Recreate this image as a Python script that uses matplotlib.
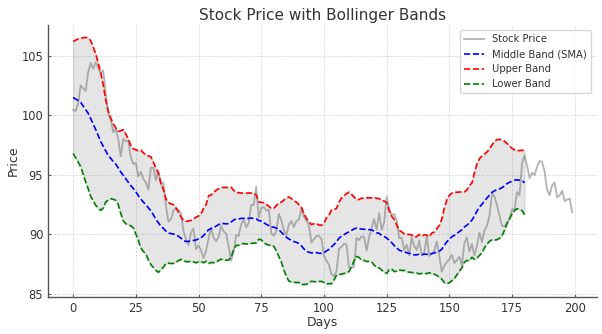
import numpy as np
import pandas as pd
import matplotlib
matplotlib.use("Agg")
import matplotlib.pyplot as plt

price = [
    100.50, 100.36, 101.01, 102.53, 102.29, 102.06, 103.64, 104.41, 103.94, 104.48,
    104.02, 103.55, 103.79, 101.88, 100.16, 99.59, 98.58, 98.89, 97.99, 96.57,
    98.04, 97.81, 97.88, 96.46, 95.91, 96.02, 94.87, 95.25, 94.65, 94.36,
    93.75, 95.61, 95.59, 94.53, 95.36, 94.14, 94.35, 92.39, 91.06, 91.25,
    91.99, 92.16, 92.05, 91.75, 90.27, 89.55, 89.09, 90.15, 90.49, 88.73,
    89.05, 88.67, 87.99, 88.60, 89.63, 90.56, 89.72, 89.41, 89.75, 90.72,
    90.24, 90.06, 88.95, 87.75, 88.57, 89.92, 89.85, 90.85, 91.22, 90.57,
    90.93, 92.47, 92.43, 94.00, 91.38, 92.20, 92.29, 91.99, 92.08, 90.09,
    89.87, 90.23, 91.71, 91.19, 90.38, 89.88, 90.80, 91.12, 90.59, 91.11,
    91.20, 92.17, 91.47, 91.14, 90.75, 89.29, 89.58, 89.84, 89.85, 89.62,
    88.20, 87.78, 87.44, 86.63, 86.47, 86.88, 88.76, 88.94, 89.20, 89.12,
    87.20, 87.18, 87.24, 89.70, 89.51, 89.81, 89.77, 88.60, 89.75, 90.50,
    91.29, 90.38, 91.78, 90.38, 90.97, 93.16, 92.17, 91.60, 91.70, 91.20,
    89.65, 89.72, 88.65, 89.13, 88.21, 89.76, 88.98, 88.65, 89.47, 88.24,
    88.46, 89.77, 88.16, 88.35, 88.61, 89.39, 88.15, 86.83, 87.35, 87.65,
    87.90, 88.25, 87.57, 87.80, 88.09, 87.38, 89.24, 89.72, 88.53, 89.18,
    88.21, 89.00, 90.15, 89.33, 90.30, 90.71, 91.53, 93.43, 93.18, 92.43,
    91.54, 90.72, 90.65, 90.99, 91.27, 92.09, 92.11, 93.56, 93.29, 96.01,
    96.64, 95.78, 94.71, 95.19, 94.97, 95.69, 96.16, 96.09, 95.24, 93.72,
    93.28, 94.13, 94.35, 93.10, 93.28, 93.66, 92.78, 92.93, 92.99, 91.85,
]
window = 20
x_ticks = [0, 25, 50, 75, 100, 125, 150, 175, 200]
y_ticks = [85, 90, 95, 100, 105]

s = pd.Series(price)
roll = s.rolling(window)
middle = roll.mean().dropna().to_numpy()
std = roll.std().dropna().to_numpy()
upper = middle + 2 * std
lower = middle - 2 * std
days = np.arange(len(price))
band_days = np.arange(len(middle))

txt = "#333333"
fig = plt.figure(figsize=(6.02, 3.34), dpi=100)
ax = fig.add_axes([0.080, 0.111, 0.912, 0.814])

ax.plot(days, price, color="gray", alpha=0.6, lw=1.3, label="Stock Price")
ax.plot(band_days, middle, color="blue", ls="--", lw=1.2, label="Middle Band (SMA)")
ax.plot(band_days, upper, color="red", ls="--", lw=1.2, label="Upper Band")
ax.plot(band_days, lower, color="green", ls="--", lw=1.2, label="Lower Band")
ax.fill_between(band_days, lower, upper, color="gray", alpha=0.2)

ax.set_xticks(x_ticks)
ax.set_yticks(y_ticks)
ax.tick_params(labelsize=8.3, length=2.5, width=0.8, direction="in",
               color="#555555", labelcolor=txt, pad=3.5)
ax.grid(True, ls="--", color="lightgray", lw=0.6, alpha=0.8)
ax.set_axisbelow(True)
for sp in ["top", "right"]:
    ax.spines[sp].set_visible(False)
for sp in ["left", "bottom"]:
    ax.spines[sp].set_color("#555555")
    ax.spines[sp].set_linewidth(1.0)
ax.set_title("Stock Price with Bollinger Bands", fontsize=11, color=txt, pad=3.5)
ax.set_xlabel("Days", fontsize=9, color=txt, labelpad=1)
ax.set_ylabel("Price", fontsize=9, color=txt, labelpad=1.5)
leg = ax.legend(loc="upper right", fontsize=7.2, frameon=True,
                bbox_to_anchor=(0.997, 1.0))
for t in leg.get_texts():
    t.set_color(txt)

fig.savefig("out.png", dpi=100)
